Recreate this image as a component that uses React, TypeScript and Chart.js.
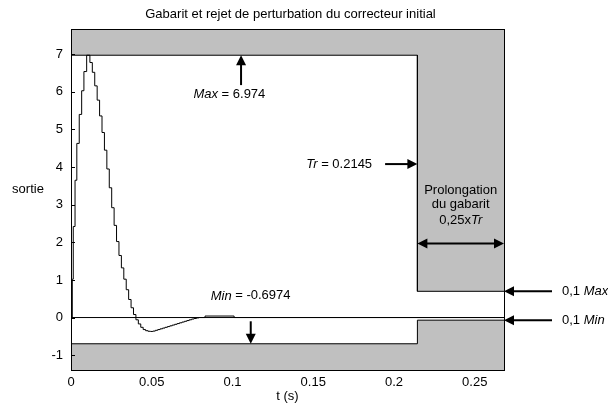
import React, { useEffect, useRef } from "react";
import { Chart, registerables } from "chart.js";
Chart.register(...registerables);

const TITLE = "Gabarit et rejet de perturbation du correcteur initial";
const Y_LABEL = "sortie";
const X_LABEL = "t (s)";
const MAX_VAL = 6.974;
const MIN_VAL = -0.6974;
const TR = 0.2145;
const X_MAX = 0.268125;
const Y_MIN = -1.3948;
const Y_MAX = 7.6714;
const X_TICKS = [0, 0.05, 0.1, 0.15, 0.2, 0.25];
const Y_TICKS = [-1, 0, 1, 2, 3, 4, 5, 6, 7];

const UPPER_T = [0, 0.2145, 0.2145, 0.268125];
const UPPER_V = [6.974, 6.974, 0.6974, 0.6974];
const LOWER_T = [0, 0.2145, 0.2145, 0.268125];
const LOWER_V = [-0.6974, -0.6974, -0.06974, -0.06974];
const ZERO_T = [0, 0.268125];
const ZERO_V = [0, 0];

const RESP_T = [
  0, 0.0008, 0.0014, 0.0025, 0.0036, 0.0051, 0.0066, 0.008, 0.0097,
  0.0117, 0.0132, 0.0147, 0.0162, 0.0177, 0.0192, 0.0207, 0.0222, 0.0237, 0.0252,
  0.0267, 0.0282, 0.0297, 0.0312, 0.0327, 0.0342, 0.0357, 0.0372, 0.0387, 0.0402,
  0.0417, 0.0432, 0.0447, 0.0462, 0.0477, 0.0492, 0.0507, 0.0522, 0.0537, 0.0552,
  0.0567, 0.0582, 0.0597, 0.0612, 0.0627, 0.0642, 0.0657, 0.0672, 0.0687, 0.0702,
  0.0717, 0.0732, 0.0747, 0.0762, 0.0777, 0.0792, 0.083, 0.101, 0.268125,
];
const RESP_V = [
  0, 1.02, 2.42, 3.65, 4.63, 5.4, 6.03, 6.54, 6.974,
  6.78, 6.52, 6.16, 5.78, 5.36, 4.92, 4.45, 3.95, 3.45, 2.92,
  2.45, 2.02, 1.65, 1.32, 1.02, 0.74, 0.48, 0.26, 0.08, -0.06,
  -0.17, -0.26, -0.32, -0.35, -0.365, -0.37, -0.36, -0.34, -0.32, -0.3,
  -0.28, -0.26, -0.24, -0.22, -0.2, -0.18, -0.16, -0.14, -0.12, -0.1,
  -0.08, -0.06, -0.04, -0.025, -0.01, 0, 0.04, 0, 0,
];

const FONT = "'Liberation Sans', Arial, sans-serif";
const GRAY = "#c0c0c0";

function pts(t: number[], v: number[]) {
  return t.map((x, i) => ({ x, y: v[i] }));
}

type Part = [string, boolean];
function rich(ctx: CanvasRenderingContext2D, parts: Part[], x: number, y: number, align: "left" | "right" | "center", size = 13) {
  ctx.save();
  ctx.textBaseline = "middle";
  ctx.textAlign = "left";
  const widths = parts.map(([s, it]) => {
    ctx.font = `${it ? "italic " : ""}${size}px ${FONT}`;
    return ctx.measureText(s).width;
  });
  const total = widths.reduce((a, b) => a + b, 0);
  let cx = align === "left" ? x : align === "right" ? x - total : x - total / 2;
  parts.forEach(([s, it], i) => {
    ctx.font = `${it ? "italic " : ""}${size}px ${FONT}`;
    ctx.fillStyle = "#000";
    ctx.fillText(s, cx, y);
    cx += widths[i];
  });
  ctx.restore();
}

function arrowHead(ctx: CanvasRenderingContext2D, x1: number, y1: number, x2: number, y2: number, len = 10, w = 5) {
  const a = Math.atan2(y2 - y1, x2 - x1);
  ctx.beginPath();
  ctx.moveTo(x2, y2);
  ctx.lineTo(x2 - len * Math.cos(a) + w * Math.sin(a), y2 - len * Math.sin(a) - w * Math.cos(a));
  ctx.lineTo(x2 - len * Math.cos(a) - w * Math.sin(a), y2 - len * Math.sin(a) + w * Math.cos(a));
  ctx.closePath();
  ctx.fill();
}

function arrow(ctx: CanvasRenderingContext2D, x1: number, y1: number, x2: number, y2: number, both = false) {
  ctx.save();
  ctx.strokeStyle = "#000";
  ctx.fillStyle = "#000";
  ctx.lineWidth = 2;
  const a = Math.atan2(y2 - y1, x2 - x1);
  const sx = both ? x1 + 8 * Math.cos(a) : x1;
  const sy = both ? y1 + 8 * Math.sin(a) : y1;
  ctx.beginPath();
  ctx.moveTo(sx, sy);
  ctx.lineTo(x2 - 8 * Math.cos(a), y2 - 8 * Math.sin(a));
  ctx.stroke();
  arrowHead(ctx, x1, y1, x2, y2);
  if (both) arrowHead(ctx, x2, y2, x1, y1);
  ctx.restore();
}

const annotations = {
  id: "annotations",
  afterDraw(chart: any) {
    const ctx: CanvasRenderingContext2D = chart.ctx;
    const xs = chart.scales.x;
    const ys = chart.scales.y;
    const { left, right, top, bottom } = chart.chartArea;
    const X = (v: number) => xs.getPixelForValue(v);
    const Y = (v: number) => ys.getPixelForValue(v);

    ctx.save();
    ctx.strokeStyle = "#000";
    ctx.lineWidth = 1;
    ctx.strokeRect(Math.round(left) + 0.5, Math.round(top) + 0.5, Math.round(right - left), Math.round(bottom - top));
    ctx.beginPath();
    Y_TICKS.forEach((v) => {
      const y = Math.round(Y(v)) + 0.5;
      ctx.moveTo(left, y);
      ctx.lineTo(left + 4, y);
    });
    ctx.stroke();
    ctx.restore();

    ctx.save();
    ctx.fillStyle = "#000";
    ctx.textAlign = "center";
    ctx.textBaseline = "middle";
    ctx.font = `13px ${FONT}`;
    ctx.fillText(TITLE, (left + right) / 2 + 3, top - 15);
    ctx.fillText(X_LABEL, (left + right) / 2, bottom + 26);
    ctx.fillText(Y_LABEL, left - 43, (top + bottom) / 2 - 10);
    ctx.restore();

    arrow(ctx, X(0.1053), Y(6.18), X(0.1053), Y(MAX_VAL));
    rich(ctx, [["Max", true], [" = " + MAX_VAL, false]], X(0.0758), Y(5.92), "left");
    arrow(ctx, X(0.1113), Y(-0.1), X(0.1113), Y(MIN_VAL));
    rich(ctx, [["Min", true], [" = " + MIN_VAL, false]], X(0.0865), Y(0.575), "left");
    arrow(ctx, X(0.1945), Y(4.08), X(TR), Y(4.08));
    rich(ctx, [["Tr", true], [" = " + TR, false]], X(0.1945) - 13, Y(4.06), "right");
    const cx = (X(TR) + X(X_MAX)) / 2;
    rich(ctx, [["Prolongation", false]], cx, Y(3.39), "center");
    rich(ctx, [["du gabarit", false]], cx, Y(3.0), "center");
    rich(ctx, [["0,25x", false], ["Tr", true]], cx, Y(2.59), "center");
    arrow(ctx, X(TR), Y(1.97), X(X_MAX), Y(1.97), true);
    arrow(ctx, X(X_MAX) + 48, Y(0.6974), X(X_MAX), Y(0.6974));
    rich(ctx, [["0,1 ", false], ["Max", true]], X(X_MAX) + 58, Y(0.6974), "left");
    arrow(ctx, X(X_MAX) + 48, Y(-0.06974), X(X_MAX), Y(-0.06974));
    rich(ctx, [["0,1 ", false], ["Min", true]], X(X_MAX) + 58, Y(-0.06974), "left");
  },
};

export default function App() {
  const ref = useRef<HTMLCanvasElement>(null);
  useEffect(() => {
    if (!ref.current) return;
    const chart = new Chart(ref.current, {
      type: "line",
      data: {
        datasets: [
          {
            data: pts(RESP_T, RESP_V),
            borderColor: "#000",
            borderWidth: 1,
            pointRadius: 0,
            stepped: true,
            fill: false,
          },
          {
            data: pts(ZERO_T, ZERO_V),
            borderColor: "#000",
            borderWidth: 1,
            pointRadius: 0,
            fill: false,
          },
          {
            data: pts(UPPER_T, UPPER_V),
            borderColor: "#000",
            borderWidth: 1,
            pointRadius: 0,
            backgroundColor: GRAY,
            fill: "end",
          },
          {
            data: pts(LOWER_T, LOWER_V),
            borderColor: "#000",
            borderWidth: 1,
            pointRadius: 0,
            backgroundColor: GRAY,
            fill: "start",
          },
        ],
      },
      options: {
        responsive: false,
        animation: false,
        devicePixelRatio: 1,
        layout: { padding: { left: 0, right: 104, top: 29, bottom: 0 } },
        plugins: { legend: { display: false }, tooltip: { enabled: false }, title: { display: false } },
        scales: {
          x: {
            type: "linear",
            min: 0,
            max: X_MAX,
            grid: { display: false, drawTicks: false },
            border: { display: false },
            afterBuildTicks: (s: any) => {
              s.ticks = X_TICKS.map((value) => ({ value }));
            },
            afterFit: (s: any) => {
              s.height = 35;
            },
            ticks: {
              padding: 5,
              maxRotation: 0,
              autoSkip: false,
              color: "#000",
              font: { family: FONT, size: 13 },
              callback: (v: any) => String(v),
            },
          },
          y: {
            type: "linear",
            min: Y_MIN,
            max: Y_MAX,
            grid: { display: false, drawTicks: false },
            border: { display: false },
            afterBuildTicks: (s: any) => {
              s.ticks = Y_TICKS.map((value) => ({ value }));
            },
            afterFit: (s: any) => {
              s.width = 71;
            },
            ticks: {
              padding: 8,
              autoSkip: false,
              color: "#000",
              font: { family: FONT, size: 13 },
              callback: (v: any) => String(v),
            },
          },
        },
      },
      plugins: [annotations],
    });
    return () => chart.destroy();
  }, []);
  return (
    <div style={{ position: "fixed", left: 0, top: 0, width: 608, height: 405, background: "#fff" }}>
      <canvas ref={ref} width={608} height={405} style={{ width: 608, height: 405 }} />
    </div>
  );
}
